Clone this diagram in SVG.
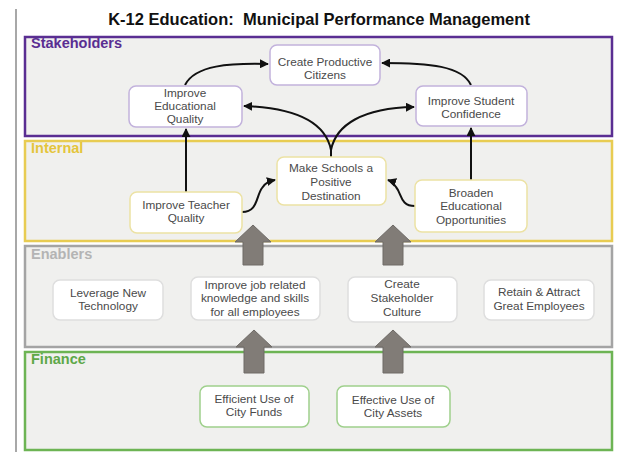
<svg xmlns="http://www.w3.org/2000/svg" width="623" height="452" viewBox="0 0 623 452">
  <style>
    .title { font-family: "Liberation Sans", Arial, sans-serif; font-size: 16.5px; font-weight: bold; fill: #111; text-anchor: middle; white-space: pre; }
    .layer-label { font-family: "Liberation Sans", Arial, sans-serif; font-size: 14.5px; font-weight: bold; }
    .node text { font-family: "Liberation Sans", Arial, sans-serif; font-size: 11.8px; fill: #4a4a4a; text-anchor: middle; }
    .node rect { fill: #ffffff; stroke-width: 1.5; }
    .layer { fill: #f0f0ee; stroke-width: 2.5; }
    .stake rect { stroke: #c2b2dc; }
    .internal rect { stroke: #ece2a4; }
    .enabler rect { stroke: #dedede; }
    .finance rect { stroke: #9fd08c; }
    .link { fill: none; stroke: #111; stroke-width: 2; }
    .block-arrow { fill: #817c77; stroke: #6e6a66; stroke-width: 1; }
  </style>
  <defs>
    <marker id="arrow" viewBox="0 0 10 10" refX="9" refY="5" markerWidth="4.5" markerHeight="4.5" orient="auto">
      <path d="M0,0 L10,5 L0,10 z" fill="#111"/>
    </marker>
  </defs>

  <!-- page margin rule -->
  <line x1="16" y1="9" x2="16" y2="452" stroke="#a8a8a8" stroke-width="2"/>

  <text class="title" x="319" y="25" xml:space="preserve">K-12 Education:  Municipal Performance Management</text>

  <!-- layers -->
  <g id="layer-stakeholders">
    <rect class="layer" x="25" y="37" width="587" height="99" stroke="#5a2e92"/>
    <text class="layer-label" x="31" y="48" fill="#5a2e92">Stakeholders</text>
  </g>
  <g id="layer-internal">
    <rect class="layer" x="25" y="141" width="587" height="100" stroke="#e8cc52"/>
    <text class="layer-label" x="31" y="153" fill="#e4c53c">Internal</text>
  </g>
  <g id="layer-enablers">
    <rect class="layer" x="25" y="246" width="587" height="101" stroke="#a4a4a4"/>
    <text class="layer-label" x="31" y="259" fill="#b4b4b4">Enablers</text>
  </g>
  <g id="layer-finance">
    <rect class="layer" x="25" y="352" width="587" height="98" stroke="#6db454"/>
    <text class="layer-label" x="31" y="364" fill="#5ea848">Finance</text>
  </g>

  <!-- connectors -->
  <g id="connectors">
    <path class="link" d="M185,85 C195,65 230,63 268,64" marker-end="url(#arrow)"/>
    <path class="link" d="M471,85 C462,66 430,63 382,63" marker-end="url(#arrow)"/>
    <path class="link" d="M331,157 L331,150 C326,125 300,108 244,106" marker-end="url(#arrow)"/>
    <path class="link" d="M331,150 C336,125 362,108 414,107" marker-end="url(#arrow)"/>
    <line class="link" x1="186" y1="192" x2="186" y2="129" marker-end="url(#arrow)"/>
    <line class="link" x1="471" y1="180" x2="471" y2="128" marker-end="url(#arrow)"/>
    <path class="link" d="M242,212 C258,212 256,196 262,188 C266,182 270,181 275,180" marker-end="url(#arrow)"/>
    <path class="link" d="M415,206 C400,206 402,194 396,187 C393,183 391,181 388,180" marker-end="url(#arrow)"/>

    <path class="block-arrow" d="M253,225 L271,242 L263,242 L263,265 L243,265 L243,242 L235,242 Z"/>
    <path class="block-arrow" d="M393,225 L411,242 L403,242 L403,265 L383,265 L383,242 L375,242 Z"/>
    <path class="block-arrow" d="M254,330 L272,347 L264,347 L264,373 L244,373 L244,347 L236,347 Z"/>
    <path class="block-arrow" d="M393,330 L411,347 L403,347 L403,373 L383,373 L383,347 L375,347 Z"/>
  </g>

  <!-- stakeholder objectives -->
  <g id="create-productive-citizens" class="node stake">
    <rect x="270" y="45" width="110" height="40" rx="7"/>
    <text x="325" y="66">Create Productive</text>
    <text x="325" y="79">Citizens</text>
  </g>
  <g id="improve-educational-quality" class="node stake">
    <rect x="129" y="86" width="113" height="41" rx="7"/>
    <text x="185" y="97">Improve</text>
    <text x="185" y="110">Educational</text>
    <text x="185" y="123">Quality</text>
  </g>
  <g id="improve-student-confidence" class="node stake">
    <rect x="416" y="86" width="111" height="40" rx="7"/>
    <text x="471" y="105">Improve Student</text>
    <text x="471" y="118">Confidence</text>
  </g>

  <!-- internal objectives -->
  <g id="make-schools-positive" class="node internal">
    <rect x="277" y="157" width="109" height="48" rx="7"/>
    <text x="331" y="172">Make Schools a</text>
    <text x="331" y="186">Positive</text>
    <text x="331" y="200">Destination</text>
  </g>
  <g id="improve-teacher-quality" class="node internal">
    <rect x="130" y="192" width="112" height="41" rx="7"/>
    <text x="186" y="209">Improve Teacher</text>
    <text x="186" y="222">Quality</text>
  </g>
  <g id="broaden-opportunities" class="node internal">
    <rect x="415" y="180" width="112" height="52" rx="7"/>
    <text x="471" y="197">Broaden</text>
    <text x="471" y="210">Educational</text>
    <text x="471" y="224">Opportunities</text>
  </g>

  <!-- enablers -->
  <g id="leverage-technology" class="node enabler">
    <rect x="53" y="280" width="110" height="40" rx="7"/>
    <text x="108" y="297">Leverage New</text>
    <text x="108" y="310">Technology</text>
  </g>
  <g id="improve-knowledge-skills" class="node enabler">
    <rect x="191" y="277" width="129" height="43" rx="7"/>
    <text x="255" y="289">Improve job related</text>
    <text x="255" y="302">knowledge and skills</text>
    <text x="255" y="316">for all employees</text>
  </g>
  <g id="stakeholder-culture" class="node enabler">
    <rect x="348" y="277" width="109" height="45" rx="7"/>
    <text x="402" y="288">Create</text>
    <text x="402" y="302">Stakeholder</text>
    <text x="402" y="316">Culture</text>
  </g>
  <g id="retain-attract" class="node enabler">
    <rect x="484" y="280" width="110" height="40" rx="7"/>
    <text x="539" y="296">Retain &amp; Attract</text>
    <text x="539" y="310">Great Employees</text>
  </g>

  <!-- finance -->
  <g id="city-funds" class="node finance">
    <rect x="200" y="386" width="109" height="41" rx="7"/>
    <text x="254" y="403">Efficient Use of</text>
    <text x="254" y="416">City Funds</text>
  </g>
  <g id="city-assets" class="node finance">
    <rect x="337" y="386" width="113" height="41" rx="7"/>
    <text x="393" y="404">Effective Use of</text>
    <text x="393" y="417">City Assets</text>
  </g>
</svg>
